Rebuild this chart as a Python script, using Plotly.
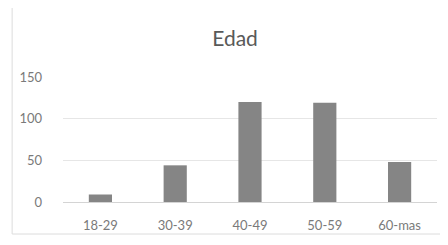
import plotly.graph_objects as go

categories = ["18-29", "30-39", "40-49", "50-59", "60-mas"]
values = [9, 44, 120, 119, 48]
y_ticks = [0, 50, 100, 150]

fig = go.Figure(go.Bar(x=categories, y=values, marker=dict(color="#858585", line=dict(width=0))))

fig.update_layout(
    width=440, height=237,
    margin=dict(l=55, r=11, t=69, b=43),
    paper_bgcolor="white", plot_bgcolor="white",
    bargap=0.69,
    showlegend=False,
    title=dict(text="Edad", x=0.516, xanchor="center", y=0.869, yanchor="middle",
               font=dict(family="Lato", size=21, color="#595959")),
    font=dict(family="Lato", size=13, color="#7a7a7a"),
)
fig.update_xaxes(showgrid=False, showline=True, linecolor="#d4d4d4", linewidth=1, automargin=False,
                 ticks="", tickfont=dict(size=13, color="#7a7a7a"), ticklabelstandoff=11)
fig.update_yaxes(range=[0, 150], tickvals=y_ticks, showgrid=True, gridcolor="#e6e6e6",
                 gridwidth=1, zeroline=False, showline=False, ticks="", automargin=False,
                 tickfont=dict(size=13, color="#7a7a7a"), ticklabelstandoff=20)
fig.add_shape(type="rect", xref="paper", yref="paper", x0=-0.136, x1=1.027, y0=-0.256, y1=1.56,
              line=dict(color="#dcdcdc", width=1), layer="below")

fig.write_html("out.html")
